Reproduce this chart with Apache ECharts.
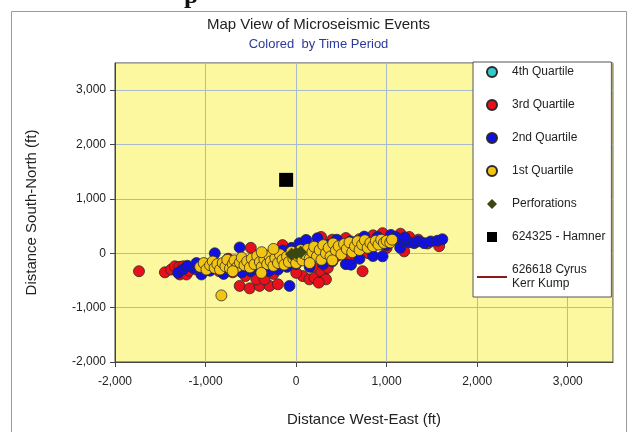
<!DOCTYPE html>
<html><head><meta charset="utf-8">
<script src="https://cdn.jsdelivr.net/npm/echarts@6/dist/echarts.min.js"></script>
<style>html,body{margin:0;padding:0;background:#fff}#c{width:637px;height:432px}</style>
</head><body><div id="c"></div>
<script>
var xTicks = [-2000, -1000, 0, 1000, 2000, 3000];
var yTicks = [-2000, -1000, 0, 1000, 2000, 3000];
var q4 = [];
var q3 = [[-1735,-330],[-1449,-350],[-1380,-300],[-1339,-240],[-1290,-250],[-1247,-240],[-1284,-390],[-1211,-390],[-1180,-320],[-1100,-300],[-1050,-350],[-980,-300],
[-850,-330],[-700,-350],[-623,-600],[-513,-645],[-403,-600],[-293,-600],[-201,-570],[-439,-480],[-348,-480],[-560,-420],[-250,-380],[74,-420],[147,-480],[203,-450],[313,-450],[1,-360],[276,-330],[350,-270],[330,-480],[250,-540],[180,-250],
[-500,100],[-150,150],[100,150],[276,300],[400,250],[550,280],[700,260],[850,330],[955,370],[1050,300],[1153,360],[1250,300],[1350,250],[1450,180],[1580,130],[1194,35],[734,-330],[600,-100],[800,0],[1000,100],[-750,-100],[-300,-200],[0,-150],[450,-50]];
var q2 = [[-1303,-360],[-1250,-300],[-1138,-270],[-1045,-390],[-1000,-200],[-950,-320],[-898,0],[-850,-250],[-800,-380],[-750,-150],[-700,-300],[-623,107],[-600,-350],[-550,-200],[-500,-330],[-450,-100],[-400,-320],[-350,-50],[-300,-330],[-250,-120],[-200,-300],[-150,50],[-100,-250],[-73,-600],[-50,100],[0,-200],[37,186],[111,246],[150,-250],[236,277],[250,50],[300,-200],[350,150],[400,-150],[450,250],[500,0],[550,-200],[607,-210],[650,200],[700,-100],[753,307],[800,100],[850,-50],[900,250],[955,-56],[1000,150],[1047,337],[1100,250],[1150,100],[1194,217],[1250,200],[1304,186],[1350,220],[1414,186],[1487,217],[1560,230],[1615,258],[1100,300],[1200,290],[900,300],[700,150],[600,220],[-1200,-230],[-1100,-180]];
var q1 = [[-1060,-250],[-1020,-180],[-990,-300],[-950,-220],[-920,-150],[-900,-270],[-870,-200],[-840,-300],[-810,-180],[-780,-240],[-760,-120],[-730,-280],[-700,-200],[-680,-130],[-650,-250],[-620,-170],[-600,-80],[-570,-220],[-540,-150],[-510,-260],[-490,-100],[-460,-200],[-430,-50],[-400,-160],[-380,-250],[-350,-110],[-320,-200],[-300,-40],[-280,-150],[-250,-230],[-230,-90],[-200,-180],[-180,-20],[-150,-120],[-130,-210],[-100,-60],[-80,-160],[-50,30],[-30,-100],[0,-180],[20,-50],[50,60],[70,-130],[100,-20],[130,80],[150,-100],[180,20],[200,120],[230,-60],[260,60],[280,-120],[300,150],[330,0],[360,100],[380,-60],[410,180],[440,50],[470,130],[500,-20],[530,170],[560,80],[590,200],[620,20],[650,130],[680,220],[700,60],[730,160],[760,240],[790,100],[820,190],[850,130],[880,230],[910,160],[940,250],[970,190],[1000,230],[1040,200],[1060,250],[-825,-775],[-380,20],[-250,80],[-700,-330],[150,-180],[400,-130],[-384,-360]];
var perfs = [[0,0],[-50,-20],[50,20]];
var hamner = [[-110,1350]];
var cyrus = [];

var FONT = 'Arial, "Liberation Sans", sans-serif';
function fmt(v){ if (v > 3000) return ''; return v.toLocaleString('en-US'); }
var border = {borderColor:'#2a2a2a', borderWidth:0.8, opacity:1};
var chart = echarts.init(document.getElementById('c'));
chart.setOption({
  animation:false,
  backgroundColor:'#fff',
  textStyle:{fontFamily:FONT},
  graphic:[
    {type:'rect', shape:{x:11.5,y:11.5,width:615,height:430}, style:{fill:'none', stroke:'#9a9a9a', lineWidth:1}, z:-1},
    {type:'text', left:184, top:-17, style:{text:'p', font:'bold 26px "Liberation Serif", serif', fill:'#111'}}
  ],
  title:{text:'Map View of Microseismic Events', subtext:'Colored  by Time Period', left:'center', top:12, itemGap:6,
    textStyle:{fontFamily:FONT, fontSize:15, fontWeight:'normal', color:'#222'},
    subtextStyle:{fontFamily:FONT, fontSize:13, color:'#2b3a9c'}},
  grid:{left:115, right:24, top:63, bottom:67, show:true, backgroundColor:'#fcf89f', borderColor:'#444', borderWidth:1},
  xAxis:{type:'value', min:-2000, max:3500, interval:1000,
    name:'Distance West-East (ft)', nameLocation:'middle', nameGap:50,
    nameTextStyle:{fontFamily:FONT, fontSize:15, color:'#222'},
    axisLine:{show:true, onZero:false, lineStyle:{color:'#444'}},
    axisTick:{show:true, length:5, lineStyle:{color:'#444'}},
    axisLabel:{formatter:fmt, fontFamily:FONT, fontSize:12, color:'#222', margin:14, showMaxLabel:false},
    splitLine:{show:true, lineStyle:{color:'#a9bac8', width:1}}},
  yAxis:{type:'value', min:-2000, max:3500, interval:1000,
    name:'Distance South-North (ft)', nameLocation:'middle', nameGap:76, nameRotate:90,
    nameTextStyle:{fontFamily:FONT, fontSize:15, color:'#222'},
    axisLine:{show:true, onZero:false, lineStyle:{color:'#444'}},
    axisTick:{show:true, length:5, lineStyle:{color:'#444'}},
    axisLabel:{formatter:fmt, fontFamily:FONT, fontSize:12, color:'#222', margin:9, showMaxLabel:false},
    splitLine:{show:true, lineStyle:{color:'#a9bac8', width:1}}},
  legend:{orient:'vertical', left:473, top:62, padding:[3,6,6,4], itemWidth:30, itemHeight:10, itemGap:19,
    backgroundColor:'#fff', borderColor:'#555', borderWidth:1, symbolKeepAspect:true,
    textStyle:{fontFamily:FONT, fontSize:12, color:'#222', lineHeight:14},
    formatter:function(n){ return n === '626618 Cyrus Kerr Kump' ? '626618 Cyrus\nKerr Kump' : n; },
    data:[
      {name:'4th Quartile', icon:'circle'},{name:'3rd Quartile', icon:'circle'},
      {name:'2nd Quartile', icon:'circle'},{name:'1st Quartile', icon:'circle'},
      {name:'Perforations', icon:'path://M5,0L10,5L5,10L0,5Z'},
      {name:'624325 - Hamner', icon:'path://M0,0H10V10H0Z'},
      {name:'626618 Cyrus Kerr Kump', icon:'path://M0,0H30V2H0Z'}]},
  series:[
    {name:'4th Quartile', type:'scatter', data:q4, symbol:'circle', symbolSize:11, itemStyle:Object.assign({color:'#33cccc'}, border)},
    {name:'3rd Quartile', type:'scatter', data:q3, symbol:'circle', symbolSize:11, itemStyle:Object.assign({color:'#e8101a'}, border)},
    {name:'2nd Quartile', type:'scatter', data:q2, symbol:'circle', symbolSize:11, itemStyle:Object.assign({color:'#1010e0'}, border)},
    {name:'1st Quartile', type:'scatter', data:q1, symbol:'circle', symbolSize:11, itemStyle:Object.assign({color:'#f2c414'}, border)},
    {name:'Perforations', type:'scatter', data:perfs, symbol:'diamond', symbolSize:13, itemStyle:{color:'#3b4712', opacity:1}},
    {name:'624325 - Hamner', type:'scatter', data:hamner, symbol:'rect', symbolSize:14, itemStyle:{color:'#000', opacity:1}},
    {name:'626618 Cyrus Kerr Kump', type:'line', data:cyrus, symbol:'none', lineStyle:{color:'#8b1a1a', width:2}, itemStyle:{color:'#8b1a1a'}}
  ]
});
</script></body></html>
